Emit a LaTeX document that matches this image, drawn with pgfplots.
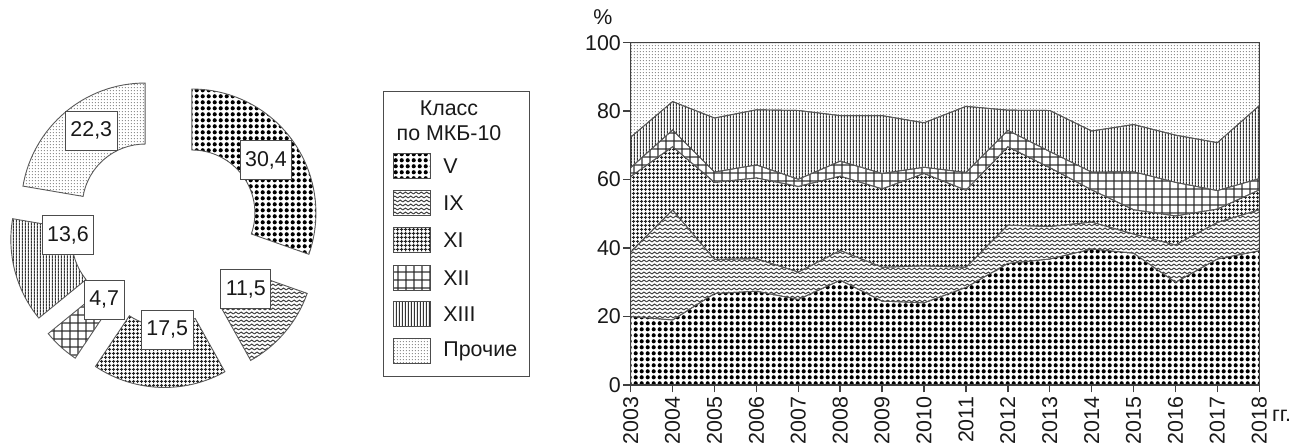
\documentclass[border=0pt]{standalone}
\usepackage{fontspec}
\setmainfont{Liberation Sans}
\usepackage{pgfplots}
\pgfplotsset{compat=1.18}
\usepackage{pgfplotstable}
\usetikzlibrary{patterns}

% patterns
\pgfdeclarepatternformonly{pV}{\pgfpointorigin}{\pgfpoint{2.85pt}{2.85pt}}{\pgfpoint{2.85pt}{2.85pt}}%
{\pgfpathcircle{\pgfpoint{1.425pt}{1.425pt}}{1.08pt}\pgfusepath{fill}}
\pgfdeclarepatternformonly{pIX}{\pgfpoint{-0.3pt}{-0.3pt}}{\pgfpoint{2.95pt}{2.3pt}}{\pgfpoint{2.65pt}{2pt}}%
{\pgfsetlinewidth{0.5pt}\pgfpathmoveto{\pgfpoint{0pt}{0.55pt}}\pgfpathlineto{\pgfpoint{1.325pt}{1.45pt}}\pgfpathlineto{\pgfpoint{2.65pt}{0.55pt}}\pgfusepath{stroke}}
\pgfdeclarepatternformonly{pXI}{\pgfpointorigin}{\pgfpoint{2pt}{2pt}}{\pgfpoint{2pt}{2pt}}%
{\pgfpathrectangle{\pgfpoint{0pt}{0.75pt}}{\pgfpoint{2pt}{0.5pt}}\pgfpathrectangle{\pgfpoint{0.75pt}{0pt}}{\pgfpoint{0.5pt}{2pt}}\pgfusepath{fill}}
\pgfdeclarepatternformonly{pXII}{\pgfpointorigin}{\pgfpoint{4.2pt}{4.2pt}}{\pgfpoint{4.2pt}{4.2pt}}%
{\pgfsetlinewidth{0.65pt}\pgfpathmoveto{\pgfpoint{0pt}{2.1pt}}\pgfpathlineto{\pgfpoint{4.2pt}{2.1pt}}\pgfpathmoveto{\pgfpoint{2.1pt}{0pt}}\pgfpathlineto{\pgfpoint{2.1pt}{4.2pt}}\pgfusepath{stroke}}
\pgfdeclarepatternformonly{pXIII}{\pgfpointorigin}{\pgfpoint{1.65pt}{1.65pt}}{\pgfpoint{1.65pt}{1.65pt}}%
{\pgfsetlinewidth{0.6pt}\pgfpathmoveto{\pgfpoint{0.825pt}{0pt}}\pgfpathlineto{\pgfpoint{0.825pt}{1.65pt}}\pgfusepath{stroke}}
\pgfdeclarepatternformonly{pPr}{\pgfpointorigin}{\pgfpoint{1.6pt}{1.6pt}}{\pgfpoint{1.6pt}{1.6pt}}%
{\pgfpathcircle{\pgfpoint{0.8pt}{0.8pt}}{0.33pt}\pgfusepath{fill}}

\newcommand\lf{\fontsize{10.7}{12.5}\selectfont}

% donut sector: #1 cumulative share before, #2 share, #3 pattern, #4 pattern colour
\newcommand\sector[4]{%
\filldraw[pattern=#3, pattern color=#4, draw=black!65, line width=0.45pt]
 ({32*cos(90-3.6*(#1+#2/2))+124*cos(90-3.6*#1)}, {32*sin(90-3.6*(#1+#2/2))+124*sin(90-3.6*#1)})
 arc[start angle={90-3.6*#1}, end angle={90-3.6*(#1+#2)}, radius=124]
 -- ({32*cos(90-3.6*(#1+#2/2))+63*cos(90-3.6*(#1+#2))}, {32*sin(90-3.6*(#1+#2/2))+63*sin(90-3.6*(#1+#2))})
 arc[start angle={90-3.6*(#1+#2)}, end angle={90-3.6*#1}, radius=63] -- cycle;}

\pgfplotstableread{
year V IX XI XII XIII Pr
2003 20.0 18.8 22.1 2.6 8.9 27.6
2004 19.0 32.1 18.5 4.9 8.3 17.2
2005 26.7 10.0 22.5 3.0 15.8 22.0
2006 27.4 9.5 23.6 3.8 16.1 19.6
2007 25.0 8.0 25.0 2.1 20.1 19.8
2008 30.6 8.7 21.7 4.4 13.3 21.3
2009 24.5 9.9 22.9 4.5 16.9 21.3
2010 24.0 10.8 27.0 1.8 13.0 23.4
2011 28.5 5.9 22.5 5.2 19.3 18.6
2012 35.5 11.2 22.9 4.8 5.9 19.7
2013 36.8 9.5 17.2 4.7 12.0 19.8
2014 39.7 7.9 9.4 5.2 12.0 25.8
2015 38.5 5.6 7.1 11.1 13.8 23.9
2016 30.0 10.9 8.5 9.8 13.8 27.0
2017 36.8 10.7 3.9 5.4 14.0 29.2
2018 39.2 12.0 5.8 3.3 21.3 18.4
}\areadata

\begin{document}
\begin{tikzpicture}
\useasboundingbox (0,0) rectangle (646.5pt,221.5pt);

% ---------- donut ----------
\begin{axis}[at={(2.9pt,25.75pt)}, anchor=south west, scale only axis,
  width=160pt, height=160pt, xmin=-160, xmax=160, ymin=-160, ymax=160,
  hide axis, clip=false]
\sector{0}{30.4}{pV}{black}
\sector{30.4}{11.5}{pIX}{black!75}
\sector{41.9}{17.5}{pXI}{black!85}
\sector{59.4}{4.7}{pXII}{black!80}
\sector{64.1}{13.6}{pXIII}{black!80}
\sector{77.7}{22.3}{pPr}{black!60}
\tikzset{lbl/.style={draw=black!70, fill=white, line width=0.45pt, font=\lf, text=black!90,
  inner xsep=2.5pt, minimum height=19.5pt}}
\node[lbl] at (axis cs:100.2,71.5) {30,4};
\node[lbl] at (axis cs:80,-57.7) {11,5};
\node[lbl] at (axis cs:1.4,-98.5) {17,5};
\node[lbl] at (axis cs:-61.6,-68.5) {4,7};
\node[lbl] at (axis cs:-97.8,-3.8) {13,6};
\node[lbl] at (axis cs:-74.5,100.7) {22,3};
\end{axis}

% ---------- stacked areas ----------
\begin{axis}[at={(315.35pt,29pt)}, anchor=south west, scale only axis,
  width=314.3pt, height=171.15pt,
  xmin=2003, xmax=2018, ymin=0, ymax=100,
  stack plots=y, no markers, axis on top,
  xtick={2003,2004,...,2018}, ytick={0,20,...,100},
  tick align=outside, major tick length=3.75pt,
  xtick pos=left, ytick pos=left,
  axis line style={black!75, line width=0.75pt},
  every tick/.style={black!75, line width=0.75pt},
  tick label style={font=\lf, text=black!90},
  /pgf/number format/assume math mode=true,
  /pgf/number format/1000 sep={},
  xticklabel style={rotate=90, anchor=east, inner xsep=2pt},
  yticklabel style={inner xsep=1pt},
  ]
\addplot[pattern=pV, pattern color=black, draw=black!65, line width=0.45pt] table[x=year,y=V]{\areadata} \closedcycle;
\addplot[pattern=pIX, pattern color=black!75, draw=black!65, line width=0.45pt] table[x=year,y=IX]{\areadata} \closedcycle;
\addplot[pattern=pXI, pattern color=black!85, draw=black!65, line width=0.45pt] table[x=year,y=XI]{\areadata} \closedcycle;
\addplot[pattern=pXII, pattern color=black!80, draw=black!65, line width=0.45pt] table[x=year,y=XII]{\areadata} \closedcycle;
\addplot[pattern=pXIII, pattern color=black!80, draw=black!65, line width=0.45pt] table[x=year,y=XIII]{\areadata} \closedcycle;
\addplot[pattern=pPr, pattern color=black!60, draw=black!65, line width=0.45pt] table[x=year,y=Pr]{\areadata} \closedcycle;
\end{axis}

% ---------- legend and extra texts ----------
\begin{scope}[x=0.5pt,y=0.5pt]
\draw[black!70, line width=0.5pt, fill=white] (383,66) rectangle (529,351);
\node[font=\lf, align=center, text=black!90] at (449,322.5) {Класс\\по МКБ-10};
\foreach \yy/\pat/\pc/\txt in {277/pV/black/V, 240/pIX/black!75/IX, 203/pXI/black!85/XI,
   165/pXII/black!80/XII, 129/pXIII/black!80/XIII, 92/pPr/black!60/Прочие}{
  \filldraw[pattern=\pat, pattern color=\pc, draw=black!70, line width=0.45pt]
     (393,\yy-12.4) rectangle (430,\yy+12.4);
  \node[font=\lf, anchor=west, text=black!90, inner sep=0pt] at (443,\yy) {\txt};
}
\node[font=\lf, text=black!90] at (603,426) {\%};
\node[font=\lf, text=black!90] at (1281.5,27) {гг.};
\end{scope}
\end{tikzpicture}
\end{document}
